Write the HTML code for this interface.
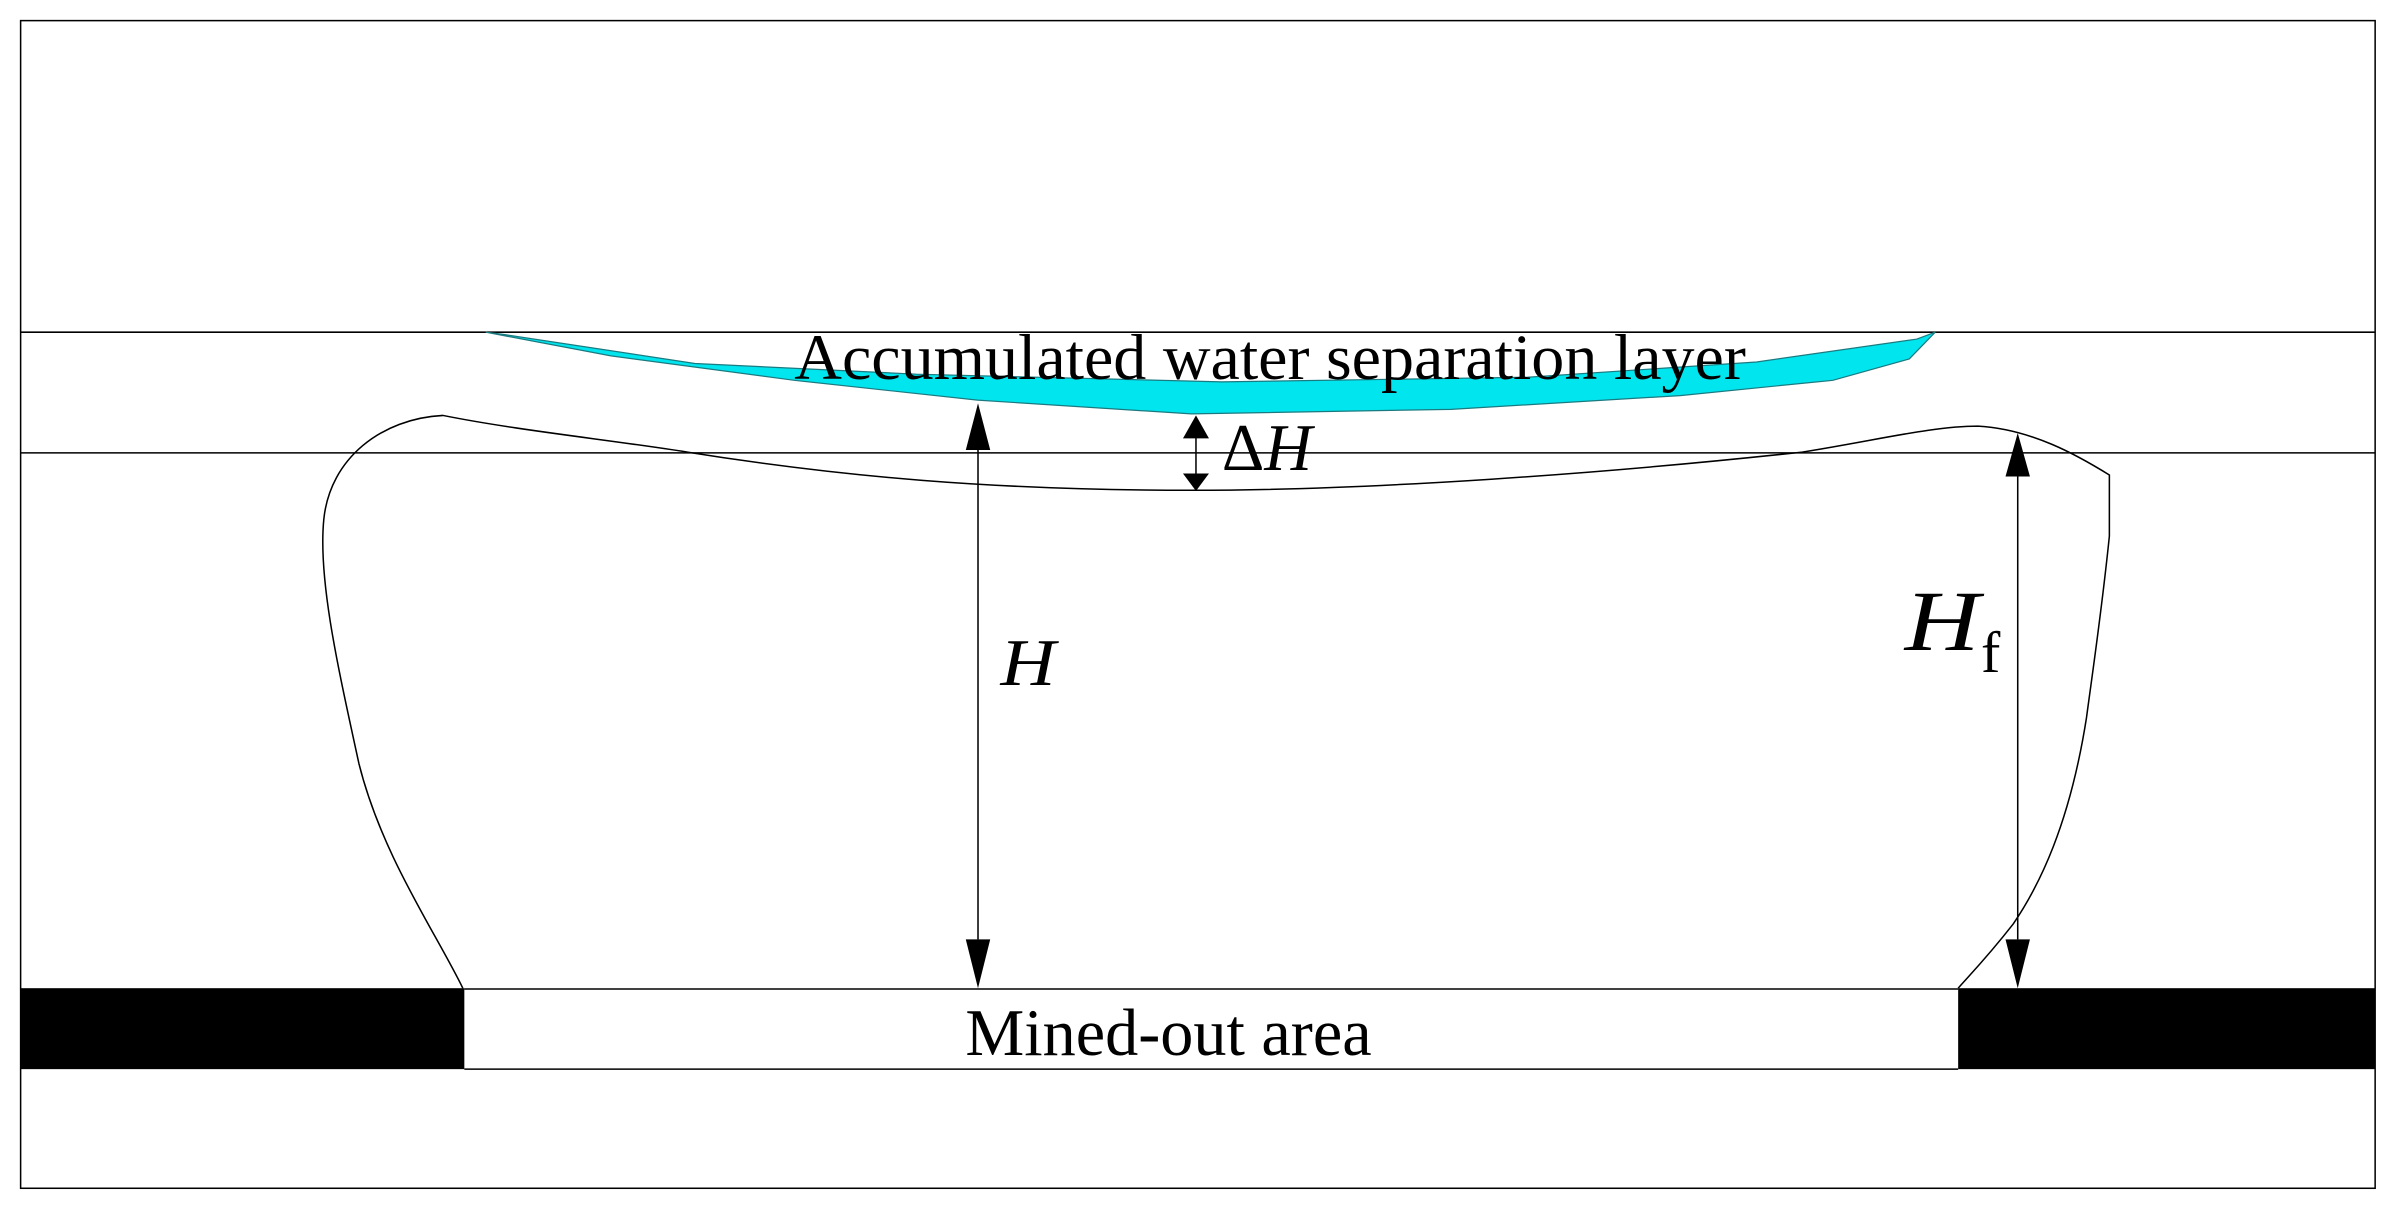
<!DOCTYPE html>
<html><head><meta charset="utf-8"><style>
html,body{margin:0;padding:0;background:#fff;}
svg{display:block;}
text{font-family:"Liberation Serif",serif;fill:#000;}
</style></head><body>
<svg width="2395" height="1215" viewBox="0 0 1568 795.5" preserveAspectRatio="none" xmlns="http://www.w3.org/2000/svg">
<rect x="0" y="0" width="1568" height="795.5" fill="#fff"/>
<rect x="13.5" y="13.5" width="1541.5" height="764.5" fill="none" stroke="#000" stroke-width="1"/>
<line x1="13.5" y1="217.5" x2="1555" y2="217.5" stroke="#000" stroke-width="1"/>
<line x1="13.5" y1="296.5" x2="1555" y2="296.5" stroke="#000" stroke-width="1"/>
<!-- water lens -->
<path d="M318,217.5 L400,233 L520,249 L640,262 L780,271 L950,268 L1100,259 L1200,249 L1250,235 L1267,217.5 L1255,222 L1150,237 L1000,247 L800,250 L600,245 L455,238 L330,219 Z" fill="#00e5ee" stroke="#1a7a80" stroke-width="0.8"/>
<!-- dome curve -->
<path d="M303,647 C285,610 250,560 235,500 C222,440 208,380 212,340 C216,300 250,274 290,272 C340,282 400,288 450,296 C550,312 650,321 780,321 C900,321 1050,310 1180,296 C1230,288 1265,279 1295,279 C1330,281 1360,298 1381,311 L1381,351 C1376,400 1370,440 1366,470 C1355,540 1335,580 1318,605 C1300,628 1288,640 1282,647" fill="none" stroke="#000" stroke-width="1"/>
<!-- mined-out -->
<rect x="13.5" y="647" width="290.5" height="53" fill="#000"/>
<rect x="1282" y="647" width="273" height="53" fill="#000"/>
<line x1="304" y1="647.5" x2="1282" y2="647.5" stroke="#000" stroke-width="1"/>
<line x1="304" y1="700" x2="1282" y2="700" stroke="#000" stroke-width="1"/>
<!-- H arrow -->
<line x1="640.3" y1="290" x2="640.3" y2="615" stroke="#000" stroke-width="1"/>
<polygon points="640.3,264 632.3,294.6 648.3,294.6" fill="#000"/>
<polygon points="640.3,647 632.3,615 648.3,615" fill="#000"/>
<!-- dH arrow -->
<line x1="783" y1="285" x2="783" y2="312" stroke="#000" stroke-width="1"/>
<polygon points="783,272 774.5,287 791.5,287" fill="#000"/>
<polygon points="783,321.5 774.5,310 791.5,310" fill="#000"/>
<!-- Hf arrow -->
<line x1="1321" y1="305" x2="1321" y2="615" stroke="#000" stroke-width="1"/>
<polygon points="1321,283.5 1313,312 1329,312" fill="#000"/>
<polygon points="1321,647 1313,615 1329,615" fill="#000"/>
<!-- labels -->
<text x="520" y="248" font-size="42" textLength="623" lengthAdjust="spacingAndGlyphs">Accumulated water separation layer</text>
<text x="800" y="307.7" font-size="44" textLength="59" lengthAdjust="spacingAndGlyphs">Δ<tspan font-style="italic">H</tspan></text>
<text x="655" y="448.5" font-size="44" font-style="italic" textLength="36" lengthAdjust="spacingAndGlyphs">H</text>
<text x="1247" y="425.6" font-size="56" font-style="italic" textLength="49" lengthAdjust="spacingAndGlyphs">H</text>
<text x="1297" y="440" font-size="38">f</text>
<text x="632" y="690.7" font-size="44" textLength="266" lengthAdjust="spacingAndGlyphs">Mined-out area</text>
</svg>
</body></html>
